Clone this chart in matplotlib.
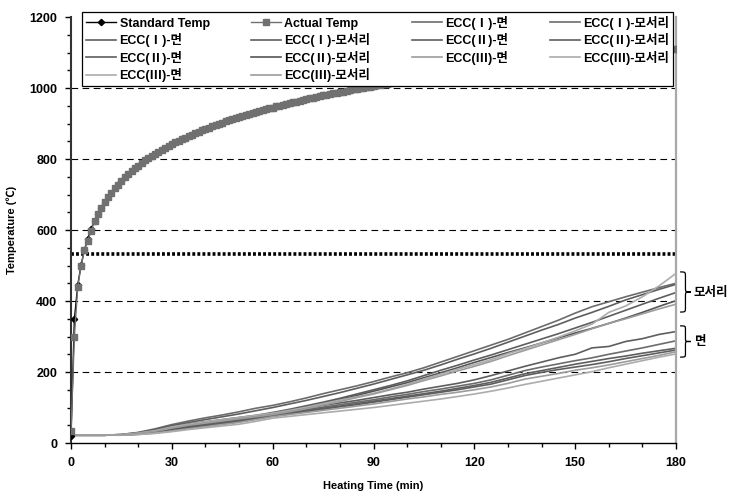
# coding = utf-8
"""
    ECC 가열시험 온도 곡선  (Heating Time - Temperature)
"""
import matplotlib
matplotlib.use("Agg")
from matplotlib import pyplot as plt
from matplotlib.path import Path
from matplotlib.patches import PathPatch

# 한글 / 로마숫자 글꼴
plt.rcParams['font.family'] = ['Liberation Sans', 'Noto Sans CJK KR', 'DejaVu Sans']
plt.rcParams['font.weight'] = 'bold'

# ---- 데이터 ----
# 표준 가열 곡선 (앞부분 1분 간격, 이후 5분 간격)
std_time = list(range(0, 11)) + list(range(15, 181, 5))
std_temp = [20, 349, 445, 502, 544, 576, 603, 626, 645, 663, 678,
            739, 781, 815, 842, 865, 885, 902, 918, 932, 945, 957, 968,
            979, 988, 997, 1006, 1014, 1022, 1029, 1036, 1043, 1049,
            1055, 1061, 1066, 1072, 1077, 1082, 1087, 1092, 1096, 1101,
            1106, 1110]

# 실제 로 온도 (1분 간격, 범례 뒤는 10분 간격)
act_time = list(range(0, 101)) + [110, 120, 130, 140, 150, 160, 170, 180]
act_temp = [35, 300, 440, 500, 545, 570, 598, 625, 645, 663,
            678, 693, 705, 717, 728, 739, 748, 757, 766, 774,
            781, 789, 796, 802, 809, 815, 820, 826, 832, 837,
            842, 847, 851, 856, 860, 865, 869, 873, 877, 881,
            885, 888, 892, 896, 899, 902, 906, 909, 912, 915,
            918, 921, 924, 927, 930, 932, 935, 938, 940, 943,
            945, 948, 950, 953, 955, 957, 960, 962, 964, 966,
            968, 971, 973, 975, 977, 979, 981, 983, 985, 986,
            988, 990, 992, 994, 996, 997, 999, 1001, 1003, 1004,
            1006, 1008, 1009, 1011, 1012, 1014, 1016, 1017, 1019, 1020,
            1022, 1036, 1049, 1061, 1072, 1082, 1092, 1101, 1110]

# ECC 시험체 (5분 간격)
ecc_time = list(range(0, 181, 5))

ecc1_face_a = [22, 22, 22, 23, 25, 30, 37, 44, 51, 57, 63, 71, 80, 86, 94, 101, 108, 115, 122,
               130, 137, 145, 152, 160, 168, 178, 191, 204, 214, 223, 232, 240, 250, 259, 268, 278, 288]
ecc1_corner_a = [22, 22, 22, 24, 30, 40, 52, 62, 71, 79, 88, 98, 106, 116, 127, 139, 150, 161, 173,
                 186, 198, 212, 228, 244, 260, 276, 292, 310, 328, 346, 366, 384, 398, 412, 425, 438, 450]
ecc1_face_b = [22, 22, 22, 23, 25, 29, 36, 43, 49, 55, 61, 69, 78, 84, 91, 98, 104, 111, 118,
               125, 132, 139, 146, 154, 162, 171, 183, 195, 204, 213, 222, 230, 238, 245, 253, 260, 267]
ecc1_corner_b = [22, 22, 22, 23, 27, 34, 44, 54, 60, 66, 72, 78, 86, 95, 105, 115, 126, 138, 150,
                 162, 175, 190, 205, 219, 234, 248, 263, 278, 293, 308, 324, 340, 357, 374, 391, 408, 424]

ecc2_face_a = [22, 22, 22, 23, 26, 31, 38, 46, 53, 59, 66, 73, 82, 89, 98, 106, 113, 120, 128,
               136, 143, 152, 160, 168, 178, 190, 203, 216, 228, 240, 250, 268, 272, 286, 294, 306, 314]
ecc2_corner_a = [22, 22, 22, 24, 29, 38, 49, 58, 66, 74, 82, 91, 100, 110, 120, 131, 142, 154, 166,
                 179, 192, 205, 220, 236, 251, 267, 284, 301, 318, 334, 352, 368, 385, 403, 418, 433, 447]
ecc2_face_b = [22, 22, 22, 23, 25, 29, 35, 42, 48, 54, 60, 68, 76, 82, 89, 95, 102, 108, 115,
               122, 129, 136, 143, 150, 158, 166, 178, 190, 199, 207, 214, 221, 229, 238, 246, 254, 262]
ecc2_corner_b = [22, 22, 22, 23, 26, 32, 40, 48, 55, 61, 67, 74, 82, 92, 102, 112, 123, 134, 146,
                 158, 170, 184, 198, 212, 227, 241, 255, 268, 282, 296, 310, 323, 337, 352, 368, 385, 401]

ecc3_face_a = [22, 22, 22, 23, 24, 28, 34, 40, 46, 52, 58, 66, 74, 80, 86, 92, 98, 104, 110,
               117, 124, 130, 137, 143, 150, 158, 168, 180, 188, 196, 205, 212, 220, 229, 238, 247, 257]
ecc3_corner_a = [22, 22, 22, 24, 28, 35, 45, 53, 60, 66, 72, 78, 84, 92, 101, 111, 121, 130, 140,
                 152, 165, 180, 194, 208, 221, 235, 252, 266, 282, 298, 316, 335, 368, 386, 412, 443, 478]
ecc3_face_b = [22, 22, 22, 22, 24, 27, 32, 38, 43, 48, 53, 61, 70, 75, 80, 85, 90, 95, 100,
               106, 112, 118, 124, 131, 138, 146, 155, 165, 174, 183, 192, 201, 212, 222, 232, 242, 251]
ecc3_corner_b = [22, 22, 22, 23, 27, 33, 42, 50, 56, 62, 68, 74, 80, 88, 97, 107, 117, 128, 138,
                 150, 162, 176, 189, 203, 216, 230, 246, 261, 276, 291, 306, 322, 337, 350, 364, 378, 391]

limit_temp = 532

y_ticks = list(range(0, 1201, 200))
x_ticks = list(range(0, 181, 30))

# ---- 그림 ----
fig = plt.figure(figsize=(7.33, 4.94), dpi=100)
ax = fig.add_axes([0.0969, 0.1032, 0.8254, 0.8623])

# 표준 / 실제 온도
h_std, = ax.plot(std_time, std_temp, color='black', lw=1, marker='D', markersize=3.2,
                 label='Standard Temp', zorder=3)
h_act, = ax.plot(act_time, act_temp, color='#707070', lw=1, marker='s', markersize=4.2,
                 label='Actual Temp', zorder=4)

# ECC 곡선
c_dark1 = '#5e5e5e'
c_dark2 = '#6c6c6c'
c_light1 = '#9c9c9c'
c_light2 = '#acacac'
lw = 1.2
h1fa, = ax.plot(ecc_time, ecc1_face_a, color=c_dark2, lw=lw, label='ECC(Ⅰ)-면')
h1ca, = ax.plot(ecc_time, ecc1_corner_a, color=c_dark2, lw=lw, label='ECC(Ⅰ)-모서리')
h1fb, = ax.plot(ecc_time, ecc1_face_b, color=c_dark1, lw=lw, label='ECC(Ⅰ)-면')
h1cb, = ax.plot(ecc_time, ecc1_corner_b, color=c_dark1, lw=lw, label='ECC(Ⅰ)-모서리')
h2fa, = ax.plot(ecc_time, ecc2_face_a, color=c_dark1, lw=lw, label='ECC(Ⅱ)-면')
h2ca, = ax.plot(ecc_time, ecc2_corner_a, color=c_dark1, lw=lw, label='ECC(Ⅱ)-모서리')
h2fb, = ax.plot(ecc_time, ecc2_face_b, color=c_dark1, lw=lw, label='ECC(Ⅱ)-면')
h2cb, = ax.plot(ecc_time, ecc2_corner_b, color='#555555', lw=lw, label='ECC(Ⅱ)-모서리')
h3fa, = ax.plot(ecc_time, ecc3_face_a, color=c_light1, lw=lw, label='ECC(Ⅲ)-면')
h3ca, = ax.plot(ecc_time, ecc3_corner_a, color=c_light2, lw=lw, label='ECC(Ⅲ)-모서리')
h3fb, = ax.plot(ecc_time, ecc3_face_b, color=c_light2, lw=lw, label='ECC(Ⅲ)-면')
h3cb, = ax.plot(ecc_time, ecc3_corner_b, color=c_light1, lw=lw, label='ECC(Ⅲ)-모서리')

# 한계온도 점선
ax.plot([0, 180], [limit_temp, limit_temp], color='black', lw=2.6,
        linestyle=(0, (0.8, 0.6)), zorder=2)

# 축
ax.set_xlim(0, 180)
ax.set_ylim(0, 1200)
ax.set_xticks(x_ticks)
ax.set_xticks(range(0, 181, 10), minor=True)
ax.set_yticks(y_ticks)
ax.set_yticks(range(0, 1201, 50), minor=True)
ax.tick_params(axis='both', which='major', direction='out', length=4, width=1,
               labelsize=9, pad=6)
ax.tick_params(axis='both', which='minor', direction='out', length=3, width=1)
for lab in ax.get_xticklabels() + ax.get_yticklabels():
    lab.set_fontweight('bold')

ax.spines['top'].set_visible(False)
ax.spines['right'].set_color('#a8a8a8')
ax.spines['right'].set_linewidth(1.6)
ax.spines['left'].set_linewidth(1.5)
ax.spines['left'].set_color('#333333')
ax.spines['bottom'].set_linewidth(1.0)

# 가로 점선 격자
for v in y_ticks[1:-1]:
    ax.axhline(v, color='black', lw=0.8, linestyle=(0, (6, 4)), zorder=1)

ax.set_xlabel('Heating Time (min)', fontsize=8, fontweight='bold', labelpad=9)
ax.set_ylabel('Temperature (℃)', fontsize=8, fontweight='bold', labelpad=9)


# 오른쪽 중괄호
def brace(x0, y0, y1, w):
    ym = (y0 + y1) / 2
    verts = [(x0, y1), (x0 + w / 2, y1), (x0 + w / 2, y1), (x0 + w / 2, y1 - (y1 - ym) * 0.25),
             (x0 + w / 2, ym + (y1 - ym) * 0.2),
             (x0 + w / 2, ym), (x0 + w / 2, ym), (x0 + w, ym),
             (x0 + w / 2, ym), (x0 + w / 2, ym), (x0 + w / 2, ym - (ym - y0) * 0.2),
             (x0 + w / 2, y0 + (ym - y0) * 0.25),
             (x0 + w / 2, y0), (x0 + w / 2, y0), (x0, y0)]
    codes = [Path.MOVETO, Path.CURVE4, Path.CURVE4, Path.CURVE4,
             Path.LINETO,
             Path.CURVE4, Path.CURVE4, Path.CURVE4,
             Path.CURVE4, Path.CURVE4, Path.CURVE4,
             Path.LINETO,
             Path.CURVE4, Path.CURVE4, Path.CURVE4]
    p = PathPatch(Path(verts, codes), fill=False, lw=0.9, color='black', clip_on=False)
    ax.add_patch(p)


brace(181.2, 369, 482, 3.2)
brace(181.2, 242, 330, 3.2)
ax.text(185.2, 425, '모서리', fontsize=9, fontweight='bold', va='center', ha='left',
        family=['Noto Sans CJK KR'])
ax.text(185.2, 286, '면', fontsize=9, fontweight='bold', va='center', ha='left',
        family=['Noto Sans CJK KR'])

# 범례 (가로 순서로 보이도록 재배열)
col1 = [h_std, h1fb, h2fb, h3fb]
col2 = [h_act, h1cb, h2cb, h3cb]
col3 = [h1fa, h2fa, h3fa]
col4 = [h1ca, h2ca, h3ca]
handles = col1 + col2 + col3 + col4
leg = fig.legend(handles, [h.get_label() for h in handles], ncol=4,
                 loc='upper left', mode='expand',
                 bbox_to_anchor=(82 / 733, 1 - 12 / 494, (673 - 82) / 733, 0),
                 prop={'size': 9, 'weight': 'bold'}, frameon=True, fancybox=False,
                 edgecolor='black', framealpha=1, borderpad=0.3, labelspacing=0.28,
                 handlelength=2.4, handletextpad=0.3, columnspacing=1.0, borderaxespad=0)
leg.get_frame().set_linewidth(0.9)

plt.savefig("out.png", dpi=100)
